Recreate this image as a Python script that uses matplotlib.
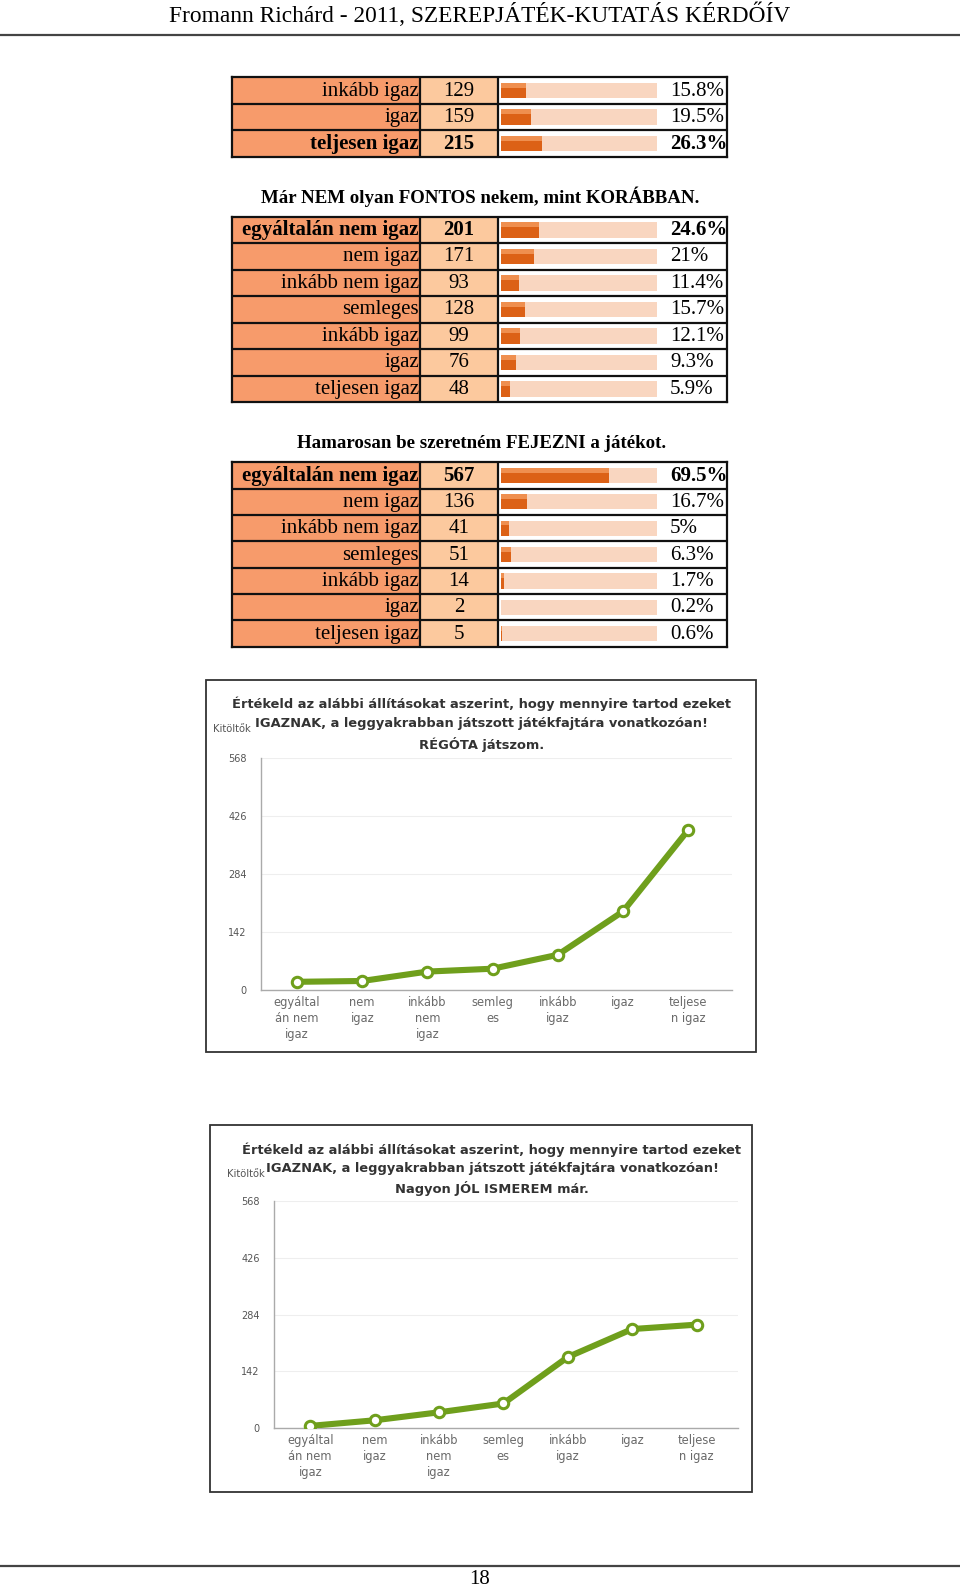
import matplotlib.pyplot as plt
from matplotlib.patches import Rectangle

W, H = 960, 1589

header = "Fromann Richárd - 2011, SZEREPJÁTÉK-KUTATÁS KÉRDŐÍV"
page_no = "18"

answers = ["egyáltalán nem igaz", "nem igaz", "inkább nem igaz", "semleges",
           "inkább igaz", "igaz", "teljesen igaz"]

# table 1 (tail of previous question)
t1_labels = ["inkább igaz", "igaz", "teljesen igaz"]
t1_counts = [129, 159, 215]
t1_pct = [15.8, 19.5, 26.3]

t2_title = "Már NEM olyan FONTOS nekem, mint KORÁBBAN."
t2_counts = [201, 171, 93, 128, 99, 76, 48]
t2_pct = [24.6, 21, 11.4, 15.7, 12.1, 9.3, 5.9]

t3_title = "Hamarosan be szeretném FEJEZNI a játékot."
t3_counts = [567, 136, 41, 51, 14, 2, 5]
t3_pct = [69.5, 16.7, 5, 6.3, 1.7, 0.2, 0.6]

# line charts
title_common = ["Értékeld az alábbi állításokat aszerint, hogy mennyire tartod ezeket",
                "IGAZNAK, a leggyakrabban játszott játékfajtára vonatkozóan!"]
title_a = title_common + ["RÉGÓTA játszom."]
title_b = title_common + ["Nagyon JÓL ISMEREM már."]
x_labels = ["egyáltal\nán nem\nigaz", "nem\nigaz", "inkább\nnem\nigaz", "semleg\nes",
            "inkább\nigaz", "igaz", "teljese\nn igaz"]
y_ticks = [0, 142, 284, 426, 568]
line_a = [21, 23, 46, 53, 87, 193, 392]
line_b = [6, 20, 40, 62, 178, 248, 259]

SERIF = "Liberation Serif"
LABEL_C = "#f79b6b"
COUNT_C = "#fcc99e"
TRACK_C = "#f9d6c0"
BAR_DARK = "#dc6116"
BAR_LIGHT = "#ef8f4f"
GREEN = "#6f9f1c"

fig = plt.figure(figsize=(W / 100, H / 100), dpi=100)


def px_axes(x0, y0, x1, y1):
    return fig.add_axes([x0 / W, 1 - y1 / H, (x1 - x0) / W, (y1 - y0) / H])


page = fig.add_axes([0, 0, 1, 1])
page.set_xlim(0, W)
page.set_ylim(H, 0)
page.axis("off")

page.text(480, 15, header, ha="center", va="center", fontsize=16.8, family=SERIF)
page.plot([0, W], [34.5, 34.5], color="#444444", lw=1.6)
page.plot([0, W], [1566, 1566], color="#444444", lw=1.6)
page.text(480, 1579, page_no, ha="center", va="center", fontsize=15, family=SERIF)


def draw_table(top, row_h, labels, counts, pct, bold_row):
    n = len(labels)
    left, right = 232, 727
    ax = px_axes(left, top, right, top + n * row_h)
    width = right - left
    lab_end, cnt_end = 188, 266
    trk0, trk1 = 269, 425
    ax.set_xlim(0, width)
    ax.set_ylim(n, 0)
    rows = list(range(n))
    ax.barh(rows, lab_end, left=0, height=1, align="edge", color=LABEL_C)
    ax.barh(rows, cnt_end - lab_end, left=lab_end, height=1, align="edge", color=COUNT_C)
    ax.barh([r + 0.5 for r in rows], trk1 - trk0, left=trk0, height=0.58, color=TRACK_C)
    fills = [p / 100 * (trk1 - trk0) for p in pct]
    ax.barh([r + 0.5 for r in rows], fills, left=trk0, height=0.58, color=BAR_DARK)
    ax.barh([r + 0.3 for r in rows], fills, left=trk0, height=0.18, color=BAR_LIGHT)
    for i in rows:
        w = "bold" if i == bold_row else "normal"
        kw = dict(va="center", fontsize=15, family=SERIF, weight=w)
        ax.text(lab_end - 1, i + 0.52, labels[i], ha="right", **kw)
        ax.text((lab_end + cnt_end) / 2, i + 0.52, str(counts[i]), ha="center", **kw)
        ax.text(trk1 + 13, i + 0.52, f"{pct[i]:g}%", ha="left", **kw)
    ax.hlines(range(1, n), 0, width, color="#111111", lw=1.6)
    ax.vlines([lab_end, cnt_end], 0, n, color="#111111", lw=1.6)
    ax.set_xticks([])
    ax.set_yticks([])
    for s in ax.spines.values():
        s.set_linewidth(1.6)
        s.set_color("#111111")


draw_table(77.3, 26.5, t1_labels, t1_counts, t1_pct, 2)
page.text(480, 197, t2_title, ha="center", va="center", fontsize=13.6,
          family=SERIF, weight="bold")
draw_table(216.7, 26.5, answers, t2_counts, t2_pct, 0)
page.text(482, 444, t3_title, ha="center", va="center", fontsize=13.6,
          family=SERIF, weight="bold")
draw_table(462.3, 26.35, answers, t3_counts, t3_pct, 0)


def draw_chart(box, title_lines, title_x, title_ys, kit_xy, plot_box, first_x, step, values):
    bx0, by0, bx1, by1 = box
    page.add_patch(Rectangle((bx0, by0), bx1 - bx0, by1 - by0, fill=False,
                             ec="#333333", lw=1.3))
    for line, ty in zip(title_lines, title_ys):
        page.text(title_x, ty, line, ha="center", va="center", fontsize=9.35,
                  weight="bold", color="#333333")
    page.text(kit_xy[0], kit_xy[1], "Kitöltők", ha="left", va="center",
              fontsize=7.2, color="#555555")
    x0, y0, x1, y1 = plot_box
    ax = px_axes(x0, y0, x1, y1)
    ax.set_xlim((x0 - first_x) / step, (x1 - first_x) / step)
    ax.set_ylim(0, 568)
    xs = list(range(len(values)))
    ax.plot(xs, values, color=GREEN, lw=4.4, solid_capstyle="round",
            marker="o", markersize=7.5, markerfacecolor="white",
            markeredgecolor=GREEN, markeredgewidth=2.2, zorder=3)
    ax.set_yticks(y_ticks)
    ax.set_yticklabels([str(t) for t in y_ticks], fontsize=7, color="#555555")
    ax.set_xticks(xs)
    ax.set_xticklabels(x_labels, linespacing=1.3, fontsize=8.3, color="#6a6a6a")
    ax.tick_params(length=0)
    ax.tick_params(axis="y", pad=10)
    ax.tick_params(axis="x", pad=4)
    ax.grid(axis="y", color="#eeeeee", lw=0.8)
    ax.set_axisbelow(True)
    for side in ["top", "right"]:
        ax.spines[side].set_visible(False)
    for side in ["left", "bottom"]:
        ax.spines[side].set_color("#aaaaaa")
        ax.spines[side].set_linewidth(1.0)


draw_chart((205.8, 680.2, 756.2, 1052.2), title_a, 481.5, (703.5, 723.8, 744),
           (213, 729), (260.5, 758, 732, 990.4), 297, 65.2, line_a)
draw_chart((209.8, 1125.2, 752.2, 1492.2), title_b, 492, (1149.5, 1168.8, 1188),
           (227, 1174), (273.7, 1201, 738, 1428.3), 310.2, 64.4, line_b)

fig.savefig("out.png", dpi=100)
